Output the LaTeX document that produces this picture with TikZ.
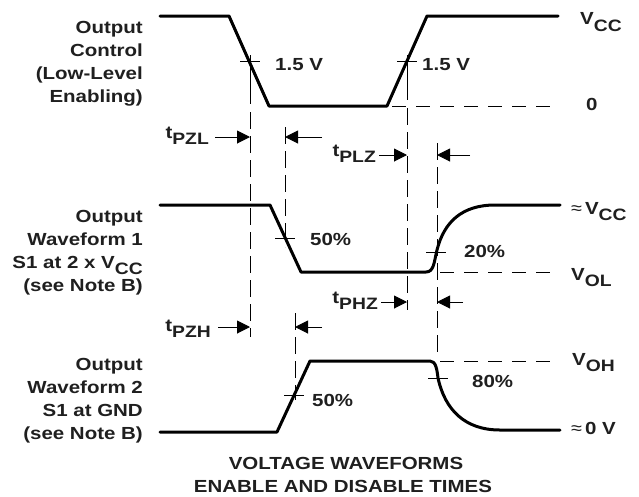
\documentclass[tikz,border=0pt]{standalone}
\usepackage{fontspec}
\setmainfont{Liberation Sans}[FakeStretch=1.17]
\newfontfamily\symfont{Liberation Sans}[FakeStretch=1.1]
\usetikzlibrary{arrows.meta}
\newcommand{\lsub}[1]{\raisebox{-6.5pt}{\fontsize{16.5}{16.5}\selectfont #1}}
\newcommand{\approxsym}{{\symfont\mdseries\fontsize{18}{18}\selectfont ≈}}
\begin{document}
\begin{tikzpicture}[x=1pt,y=-1pt,
  wave/.style={line width=3pt, line join=round, line cap=round},
  guide/.style={line width=0.8pt, dash pattern=on 14pt off 10pt},
  vguide/.style={line width=0.8pt, dash pattern=on 17pt off 7pt},
  solidguide/.style={line width=0.8pt},
  tickmark/.style={line width=0.8pt},
  tarrow/.style={line width=1pt, -{Triangle[length=13pt,width=13pt]}},
  txt/.style={font=\fontsize{17.5}{23}\selectfont\bfseries, inner sep=0pt, text=black!88},
]
\useasboundingbox (0,0) rectangle (639,496);

% ---------- waveforms ----------
\draw[wave] (160,16) -- (229,16) -- (269,106) -- (387,106) -- (427,16) -- (558,16);
\draw[wave] (160,205) -- (270,205) -- (301,272) -- (426,272)
  .. controls (434,272) and (434,262) .. (437,250)
  .. controls (444,222) and (462,205) .. (495,205) -- (560,205);
\draw[wave] (160,432) -- (277,432) -- (310,361) -- (430,361)
  .. controls (436,361) and (437,370) .. (438,378)
  .. controls (445,410) and (465,430) .. (500,430) -- (560,430);

% ---------- reference levels ----------
\draw[guide] (392,106) -- (558,106);
\draw[guide] (440,272) -- (558,272);
\draw[guide] (440,361) -- (558,361);

% ---------- crossing marks ----------
\draw[tickmark] (240,61) -- (260,61);
\draw[tickmark] (397,61) -- (417,61);
\draw[tickmark] (275,238) -- (295,238);
\draw[tickmark] (426,252) -- (446,252);
\draw[tickmark] (284,395) -- (304,395);
\draw[tickmark] (428,378) -- (448,378);

% ---------- vertical guides ----------
\coordinate (ga1) at (250,55);  \coordinate (ga2) at (250,104);
\coordinate (ga3) at (250,112); \coordinate (ga4) at (250,337);
\draw[solidguide] (ga1) -- (ga2);
\draw[vguide] (ga3) -- (ga4);
\coordinate (gb1) at (285,127); \coordinate (gb2) at (285,247);
\draw[vguide] (gb1) -- (gb2);
\coordinate (gc1) at (407,55);  \coordinate (gc2) at (407,100);
\coordinate (gc3) at (407,108); \coordinate (gc4) at (407,310);
\draw[solidguide] (gc1) -- (gc2);
\draw[vguide] (gc3) -- (gc4);
\coordinate (gd1) at (437,143); \coordinate (gd2) at (437,353);
\draw[vguide] (gd1) -- (gd2);
\coordinate (ge1) at (295,313); \coordinate (ge2) at (295,400);
\draw[vguide] (ge1) -- (ge2);

% ---------- timing arrows ----------
\draw[tarrow] (215,137) -- (250,137);
\draw[tarrow] (322,137) -- (285,137);
\draw[tarrow] (379,155) -- (407,155);
\draw[tarrow] (470,155) -- (437,155);
\draw[tarrow] (381,302) -- (407,302);
\draw[tarrow] (463,302) -- (437,302);
\draw[tarrow] (218,327) -- (250,327);
\draw[tarrow] (322,327) -- (295,327);

% ---------- timing labels ----------
\node[txt, anchor=base east] (tpzl) at (209,138) {t\lsub{PZL}};
\node[txt, anchor=base east] (tplz) at (376,156) {t\lsub{PLZ}};
\node[txt, anchor=base east] (tphz) at (378,303) {t\lsub{PHZ}};
\node[txt, anchor=base east] (tpzh) at (211,331) {t\lsub{PZH}};

% ---------- left labels ----------
\node[txt, anchor=base east] (oc1) at (143,33) {Output};
\node[txt, anchor=base east] (oc2) at (143,56) {Control};
\node[txt, anchor=base east] (oc3) at (143,79) {(Low-Level};
\node[txt, anchor=base east] (oc4) at (143,102) {Enabling)};
\node[txt, anchor=base east] (wa1) at (143,222) {Output};
\node[txt, anchor=base east] (wa2) at (143,245) {Waveform 1};
\node[txt, anchor=base east] (wa3) at (143,268) {S1 at 2 x V\lsub{CC}};
\node[txt, anchor=base east] (wa4) at (143,291) {(see Note B)};
\node[txt, anchor=base east] (wb1) at (143,370) {Output};
\node[txt, anchor=base east] (wb2) at (143,393) {Waveform 2};
\node[txt, anchor=base east] (wb3) at (143,416) {S1 at GND};
\node[txt, anchor=base east] (wb4) at (143,439) {(see Note B)};

% ---------- level / value labels ----------
\node[txt, anchor=base west] (vcc) at (580,24.5) {V\lsub{CC}};
\node[txt, anchor=base west] (zero) at (586,110) {0};
\node[txt, anchor=base west] (avcc) at (571,214) {\approxsym\hspace{3pt}V\lsub{CC}};
\node[txt, anchor=base west] (vol) at (571,280) {V\lsub{OL}};
\node[txt, anchor=base west] (voh) at (572,365) {V\lsub{OH}};
\node[txt, anchor=base west] (azero) at (571,434) {\approxsym\hspace{3pt}0 V};
\node[txt, anchor=base west] (v15a) at (275,70) {1.5 V};
\node[txt, anchor=base west] (v15b) at (422,70) {1.5 V};
\node[txt, anchor=base west] (p50a) at (310,245) {50\%};
\node[txt, anchor=base west] (p20) at (464,257) {20\%};
\node[txt, anchor=base west] (p50b) at (312,406) {50\%};
\node[txt, anchor=base west] (p80) at (472,387) {80\%};

% ---------- title ----------
\node[txt, anchor=base] (title1) at (346,469) {VOLTAGE WAVEFORMS};
\node[txt, anchor=base] (title2) at (343,492) {ENABLE AND DISABLE TIMES};
\end{tikzpicture}
\end{document}
